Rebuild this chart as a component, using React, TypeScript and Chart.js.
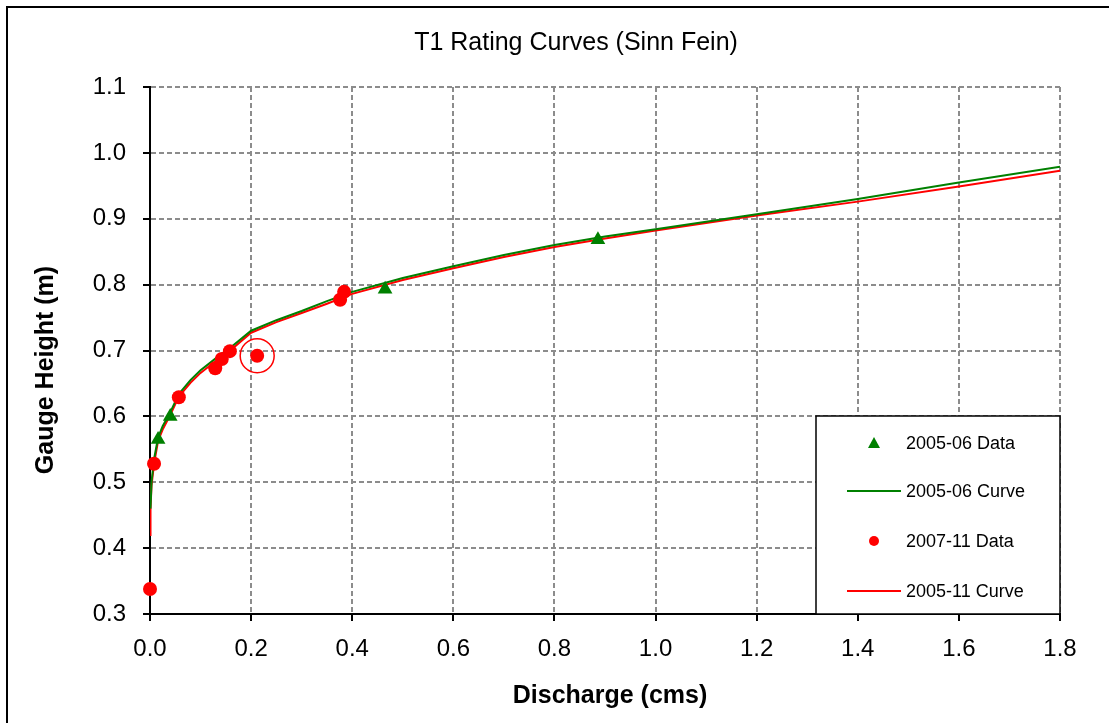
import React, { useEffect, useRef } from "react";
import { Chart, registerables } from "chart.js";

Chart.register(...registerables);

const FONT = "'Liberation Sans', Arial, Helvetica, sans-serif";

// ---- Data (Discharge in cms, Gauge height in m) ----
const data0506Q = [0.016, 0.04, 0.465, 0.886];
const data0506H = [0.565, 0.6, 0.793, 0.868];

const data0711Q = [0.0, 0.008, 0.057, 0.129, 0.142, 0.158, 0.212, 0.376, 0.384];
const data0711H = [0.338, 0.528, 0.629, 0.673, 0.687, 0.699, 0.692, 0.777, 0.789];

const flaggedQ = [0.212];
const flaggedH = [0.692];

const curve0506Q = [0.001, 0.003, 0.008, 0.016, 0.025, 0.04, 0.057, 0.08, 0.1, 0.13, 0.16, 0.2, 0.25, 0.3, 0.35, 0.4, 0.5, 0.6, 0.7, 0.8, 0.9, 1.0, 1.2, 1.4, 1.6, 1.8];
const curve0506H = [0.46, 0.5, 0.535, 0.568, 0.585, 0.606, 0.634, 0.655, 0.67, 0.688, 0.705, 0.73, 0.746, 0.76, 0.775, 0.789, 0.81, 0.828, 0.845, 0.86, 0.873, 0.884, 0.907, 0.93, 0.955, 0.979];

const curve0511Q = [0.0, 0.001, 0.003, 0.008, 0.016, 0.025, 0.04, 0.057, 0.08, 0.1, 0.13, 0.16, 0.2, 0.25, 0.3, 0.35, 0.4, 0.5, 0.6, 0.7, 0.8, 0.9, 1.0, 1.2, 1.4, 1.6, 1.8];
const curve0511H = [0.42, 0.46, 0.495, 0.528, 0.563, 0.58, 0.602, 0.63, 0.651, 0.666, 0.684, 0.701, 0.727, 0.743, 0.757, 0.771, 0.786, 0.807, 0.825, 0.842, 0.857, 0.87, 0.882, 0.905, 0.926, 0.949, 0.973];

// ---- Axes ----
const xMin = 0;
const xMax = 1.8;
const xStep = 0.2;
const yMin = 0.3;
const yMax = 1.1;
const yStep = 0.1;

// ---- Text ----
const chartTitle = "T1 Rating Curves (Sinn Fein)";
const xTitle = "Discharge (cms)";
const yTitle = "Gauge Height (m)";
const legendLabels = ["2005-06 Data", "2005-06 Curve", "2007-11 Data", "2005-11 Curve"];

const GREEN = "#008000";
const RED = "#ff0000";

const toPts = (xs: number[], ys: number[]) => xs.map((x, i) => ({ x, y: ys[i] }));

const decorPlugin = {
  id: "decor",
  afterDraw(chart: any) {
    const ctx: CanvasRenderingContext2D = chart.ctx;
    ctx.save();
    // outer frame (only left and top visible)
    ctx.strokeStyle = "#000";
    ctx.lineWidth = 2;
    ctx.strokeRect(7, 7, 1300, 900);

    // title
    ctx.fillStyle = "#000";
    ctx.font = `25px ${FONT}`;
    ctx.textAlign = "center";
    ctx.textBaseline = "alphabetic";
    ctx.fillText(chartTitle, 576, 50);

    // x title
    ctx.font = `bold 25px ${FONT}`;
    ctx.fillText(xTitle, 610, 703);

    // y title
    ctx.save();
    ctx.translate(53, 370);
    ctx.rotate(-Math.PI / 2);
    ctx.fillText(yTitle, 0, 0);
    ctx.restore();

    // legend
    const lx = 816, ly = 416, lw = 244, lh = 198;
    ctx.fillStyle = "#fff";
    ctx.fillRect(lx, ly, lw, lh);
    ctx.strokeStyle = "#000";
    ctx.lineWidth = 1.5;
    ctx.strokeRect(lx, ly, lw, lh);

    const rowsY = [443, 491, 541, 591];
    const mx = 874;
    // triangle
    ctx.fillStyle = GREEN;
    ctx.beginPath();
    ctx.moveTo(mx, rowsY[0] - 6);
    ctx.lineTo(mx + 6, rowsY[0] + 5);
    ctx.lineTo(mx - 6, rowsY[0] + 5);
    ctx.closePath();
    ctx.fill();
    // green line
    ctx.strokeStyle = GREEN;
    ctx.lineWidth = 2;
    ctx.beginPath();
    ctx.moveTo(847, rowsY[1]);
    ctx.lineTo(901, rowsY[1]);
    ctx.stroke();
    // red circle
    ctx.fillStyle = RED;
    ctx.beginPath();
    ctx.arc(mx, rowsY[2], 5, 0, Math.PI * 2);
    ctx.fill();
    // red line
    ctx.strokeStyle = RED;
    ctx.beginPath();
    ctx.moveTo(847, rowsY[3]);
    ctx.lineTo(901, rowsY[3]);
    ctx.stroke();

    ctx.fillStyle = "#000";
    ctx.font = `18px ${FONT}`;
    ctx.textAlign = "left";
    ctx.textBaseline = "alphabetic";
    legendLabels.forEach((t, i) => ctx.fillText(t, 906, rowsY[i] + 6));
    ctx.restore();
  },
};

export default function App() {
  const ref = useRef<HTMLCanvasElement | null>(null);

  useEffect(() => {
    if (!ref.current) return;
    const gridCommon = {
      color: "#8c8c8c",
      lineWidth: 2,
      tickColor: "#000",
      tickWidth: 2,
      tickLength: 7,
      tickBorderDash: [],
    };
    const borderCommon = { display: true, color: "#000", width: 2, dash: [5, 3] };
    const chart = new Chart(ref.current, {
      type: "scatter",
      data: {
        datasets: [
          {
            label: "2007-11 Data",
            data: toPts(data0711Q, data0711H),
            backgroundColor: RED,
            borderColor: RED,
            pointStyle: "circle",
            pointRadius: 7,
            pointBorderWidth: 0,
            clip: false,
            order: 0,
          },
          {
            label: "2005-06 Data",
            data: toPts(data0506Q, data0506H),
            backgroundColor: GREEN,
            borderColor: GREEN,
            pointStyle: "triangle",
            pointRadius: 8.5,
            pointBorderWidth: 0,
            clip: false,
            order: 1,
          },
          {
            label: "flagged",
            data: toPts(flaggedQ, flaggedH),
            backgroundColor: "rgba(0,0,0,0)",
            borderColor: RED,
            pointStyle: "circle",
            pointRadius: 17,
            pointBorderWidth: 1.5,
            clip: false,
            order: 2,
          },
          {
            label: "2005-11 Curve",
            data: toPts(curve0511Q, curve0511H),
            showLine: true,
            borderColor: RED,
            backgroundColor: RED,
            borderWidth: 2,
            pointRadius: 0,
            tension: 0,
            order: 4,
          },
          {
            label: "2005-06 Curve",
            data: toPts(curve0506Q, curve0506H),
            showLine: true,
            borderColor: GREEN,
            backgroundColor: GREEN,
            borderWidth: 2,
            pointRadius: 0,
            tension: 0,
            order: 3,
          },
        ],
      },
      options: {
        animation: false,
        responsive: false,
        maintainAspectRatio: false,
        layout: { padding: { left: 0, right: 49, top: 87, bottom: 0 } },
        plugins: {
          legend: { display: false },
          title: { display: false },
          tooltip: { enabled: false },
        },
        scales: {
          x: {
            type: "linear",
            min: xMin,
            max: xMax,
            afterFit: (s: any) => {
              s.height = 109;
            },
            ticks: {
              stepSize: xStep,
              autoSkip: false,
              maxRotation: 0,
              padding: 14,
              color: "#000",
              font: { family: FONT, size: 24 },
              callback: (v: any) => Number(v).toFixed(1),
            },
            grid: gridCommon,
            border: borderCommon,
          },
          y: {
            type: "linear",
            min: yMin,
            max: yMax,
            afterFit: (s: any) => {
              s.width = 150;
            },
            ticks: {
              stepSize: yStep,
              autoSkip: false,
              padding: 17,
              color: "#000",
              font: { family: FONT, size: 24 },
              callback: (v: any) => Number(v).toFixed(1),
            },
            grid: gridCommon,
            border: borderCommon,
          },
        },
      } as any,
      plugins: [decorPlugin],
    });
    return () => chart.destroy();
  }, []);

  return (
    <div style={{ position: "absolute", left: 0, top: 0, width: 1109, height: 723, background: "#fff" }}>
      <canvas ref={ref} width={1109} height={723} style={{ display: "block" }} />
    </div>
  );
}
